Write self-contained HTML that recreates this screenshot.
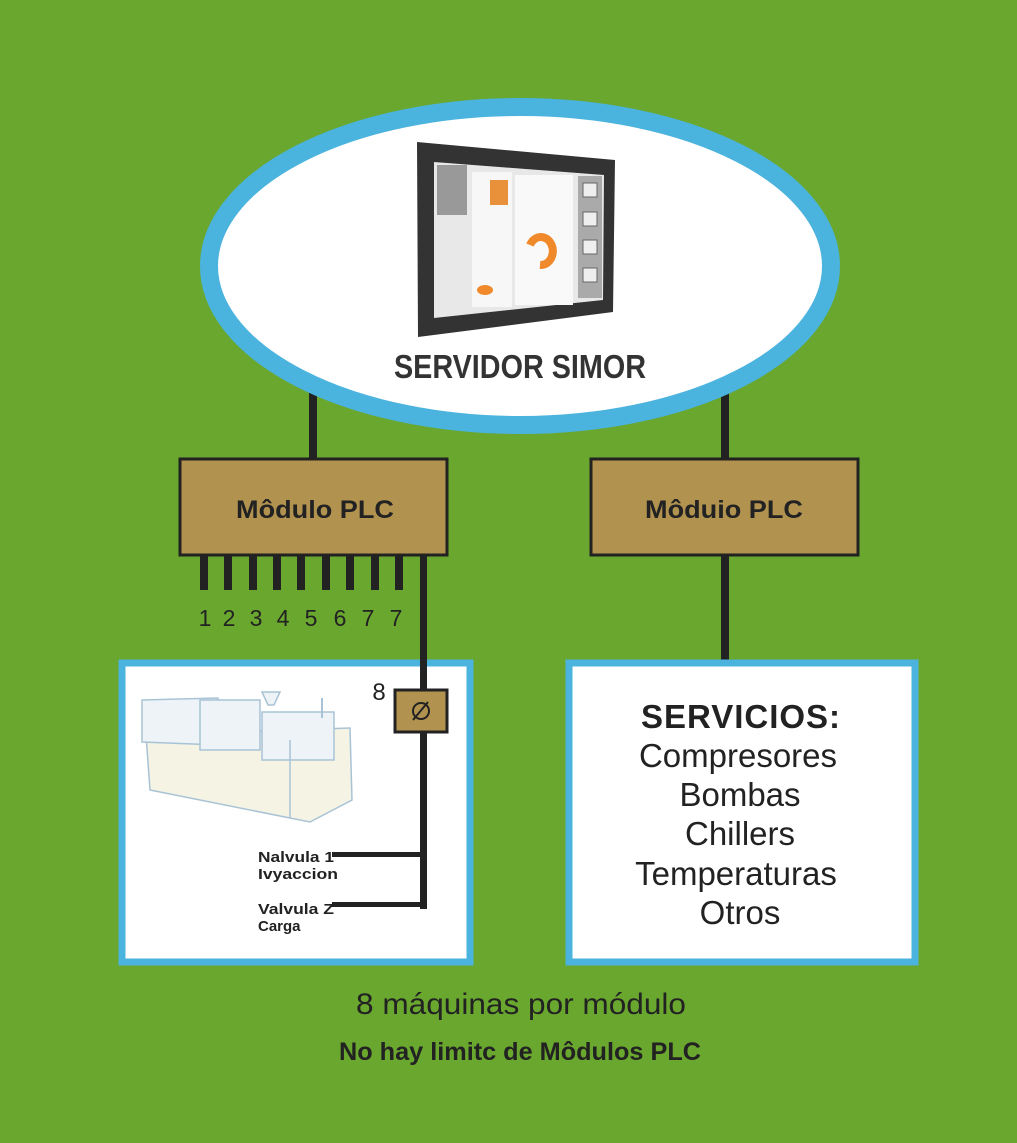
<!DOCTYPE html>
<html><head><meta charset="utf-8"><style>
body{margin:0;background:#6aa72f;}
svg{display:block}
text{font-family:"Liberation Sans",sans-serif;}
</style></head><body>
<svg width="1017" height="1143" viewBox="0 0 1017 1143">
<rect width="1017" height="1143" fill="#6aa72f"/>
<rect x="309" y="385" width="8" height="75" fill="#222"/>
<rect x="721" y="385" width="8" height="75" fill="#222"/>
<ellipse cx="520" cy="266" rx="311" ry="159" fill="#fff" stroke="#4ab3de" stroke-width="18"/>
<!-- tablet -->
<polygon points="417,142 615,160 613,312 418,337" fill="#333"/>
<polygon points="434,162 604,175 603,300 434,318" fill="#e8e8e8"/>
<rect x="437" y="165" width="30" height="50" fill="#999"/>
<rect x="472" y="172" width="40" height="135" fill="#f7f7f7"/>
<rect x="490" y="180" width="18" height="25" fill="#e8913a"/>
<rect x="515" y="175" width="58" height="130" fill="#f9f9f9"/>
<path d="M530 245 a12 14 0 1 1 10 20" stroke="#f0892a" stroke-width="8" fill="none"/>
<rect x="578" y="176" width="24" height="122" fill="#aaa"/>
<rect x="583" y="183" width="14" height="14" fill="#eee" stroke="#666"/>
<rect x="583" y="212" width="14" height="14" fill="#eee" stroke="#666"/>
<rect x="583" y="240" width="14" height="14" fill="#eee" stroke="#666"/>
<rect x="583" y="268" width="14" height="14" fill="#eee" stroke="#666"/>
<ellipse cx="485" cy="290" rx="8" ry="5" fill="#f0892a"/>
<text x="520" y="378" font-size="33" font-weight="bold" fill="#333" text-anchor="middle" textLength="252" lengthAdjust="spacingAndGlyphs">SERVIDOR SIMOR</text>
<rect x="180" y="459" width="267" height="96" fill="#b1924f" stroke="#222" stroke-width="3"/>
<text x="315" y="518" font-size="25" font-weight="bold" fill="#222" text-anchor="middle" textLength="158" lengthAdjust="spacingAndGlyphs">Môdulo PLC</text>
<rect x="591" y="459" width="267" height="96" fill="#b1924f" stroke="#222" stroke-width="3"/>
<text x="724" y="518" font-size="25" font-weight="bold" fill="#222" text-anchor="middle" textLength="158" lengthAdjust="spacingAndGlyphs">Môduio PLC</text>
<g fill="#222">
<rect x="200" y="556" width="8" height="34"/><rect x="224" y="556" width="8" height="34"/><rect x="249" y="556" width="8" height="34"/><rect x="273" y="556" width="8" height="34"/><rect x="297" y="556" width="8" height="34"/><rect x="322" y="556" width="8" height="34"/><rect x="346" y="556" width="8" height="34"/><rect x="371" y="556" width="8" height="34"/><rect x="395" y="556" width="8" height="34"/>
</g>
<g font-size="23" fill="#222" text-anchor="middle">
<text x="205" y="626">1</text><text x="229" y="626">2</text><text x="256" y="626">3</text><text x="283" y="626">4</text><text x="311" y="626">5</text><text x="340" y="626">6</text><text x="368" y="626">7</text><text x="396" y="626">7</text>
</g>
<rect x="721" y="556" width="8" height="106" fill="#222"/>
<rect x="122" y="663" width="348" height="299" fill="#fff" stroke="#4ab3de" stroke-width="7"/>
<rect x="569" y="663" width="346" height="299" fill="#fff" stroke="#4ab3de" stroke-width="7"/>
<!-- machine -->
<g stroke="#a9c3d6" stroke-width="1.5" fill="#eef3f7">
<polygon points="146,735 350,728 352,800 310,822 150,790" fill="#f4f3e4"/>
<polygon points="142,700 218,698 218,745 142,742"/>
<rect x="200" y="700" width="60" height="50"/>
<rect x="262" y="712" width="72" height="48"/>
<polygon points="262,692 280,692 274,705 268,705"/>
<line x1="290" y1="740" x2="290" y2="818"/>
</g>
<line x1="322" y1="698" x2="322" y2="718" stroke="#a9c3d6" stroke-width="2"/>
<rect x="420" y="556" width="7" height="353" fill="#222"/>
<rect x="395" y="690" width="52" height="42" fill="#b1924f" stroke="#222" stroke-width="3"/>
<circle cx="421" cy="711" r="8" fill="none" stroke="#222" stroke-width="2"/>
<line x1="413" y1="720" x2="428" y2="702" stroke="#222" stroke-width="2"/>
<text x="379" y="700" font-size="24" fill="#222" text-anchor="middle">8</text>
<rect x="332" y="852" width="93" height="5" fill="#222"/>
<rect x="332" y="902" width="93" height="5" fill="#222"/>
<g font-size="15" font-weight="bold" fill="#222">
<text x="258" y="862" textLength="76" lengthAdjust="spacingAndGlyphs">Nalvula 1</text><text x="258" y="879" textLength="80" lengthAdjust="spacingAndGlyphs">Ivyaccion</text>
<text x="258" y="914" textLength="76" lengthAdjust="spacingAndGlyphs">Valvula Z</text><text x="258" y="931">Carga</text>
</g>
<g font-size="33" fill="#222" text-anchor="middle">
<text x="741" y="728" font-weight="bold" letter-spacing="1">SERVICIOS:</text>
<text x="738" y="767">Compresores</text>
<text x="740" y="806">Bombas</text>
<text x="740" y="845">Chillers</text>
<text x="736" y="885">Temperaturas</text>
<text x="740" y="924">Otros</text>
</g>
<text x="521" y="1014" font-size="30" fill="#222" text-anchor="middle" textLength="330" lengthAdjust="spacingAndGlyphs">8 máquinas por módulo</text>
<text x="520" y="1060" font-size="25" font-weight="bold" fill="#222" text-anchor="middle" textLength="362" lengthAdjust="spacingAndGlyphs">No hay limitc de Môdulos PLC</text>
</svg>
</body></html>
